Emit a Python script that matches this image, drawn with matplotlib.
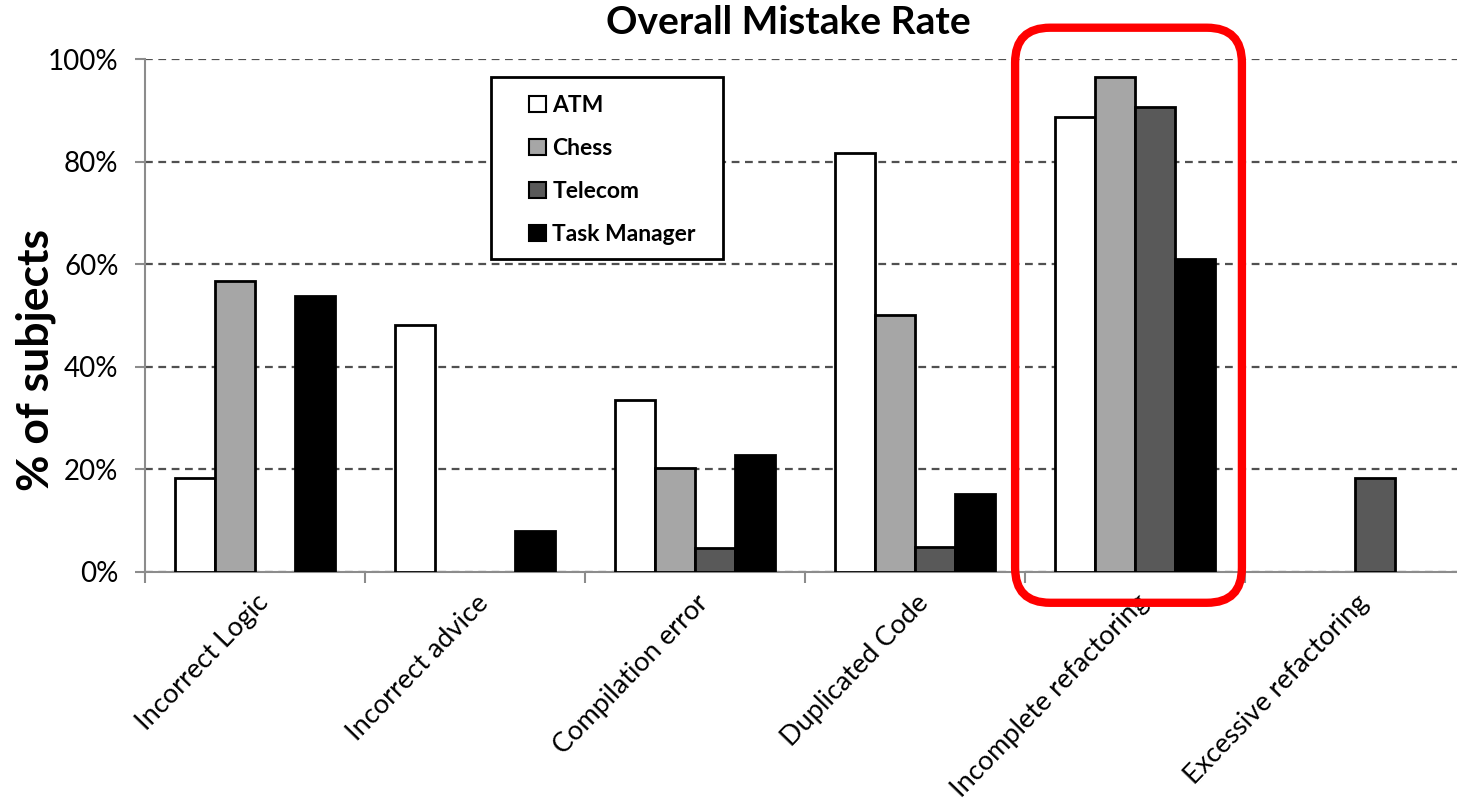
import numpy as np
import matplotlib
matplotlib.use("Agg")
from matplotlib import pyplot as plt
from matplotlib.patches import FancyBboxPatch, Rectangle, Patch
from matplotlib.ticker import FixedLocator, PercentFormatter

plt.rcParams['font.family'] = ['Lato', 'DejaVu Sans']

categories = ['Incorrect Logic', 'Incorrect advice', 'Compilation error',
              'Duplicated Code', 'Incomplete refactoring', 'Excessive refactoring']
series = ['ATM', 'Chess', 'Telecom', 'Task Manager']
atm = [18.4, 48.1, 33.5, 81.7, 88.6, 0]
chess = [56.7, 0, 20.3, 50.1, 96.4, 0]
telecom = [0, 0, 4.7, 4.8, 90.6, 18.3]
task_manager = [53.8, 8.0, 22.9, 15.3, 61.1, 0]
colors = ['#ffffff', '#a6a6a6', '#595959', '#000000']
yticks = [0, 20, 40, 60, 80, 100]

W, H = 1457, 807
fig = plt.figure(figsize=(W / 100, H / 100), dpi=100)
ax = fig.add_axes([145 / W, 235 / H, 1320 / W, 513 / H])

x = np.arange(len(categories))
bw = 0.182
for k, (vals, col) in enumerate(zip([atm, chess, telecom, task_manager], colors)):
    vals = np.array(vals, dtype=float)
    keep = vals > 0
    ax.bar(x[keep] + (k - 1.5) * bw, vals[keep], width=bw, color=col,
           edgecolor='black', linewidth=2, zorder=3)

ax.set_xlim(-0.5, 5.5)
ax.set_ylim(0, 100)
ax.yaxis.set_major_locator(FixedLocator(yticks))
ax.yaxis.set_major_formatter(PercentFormatter(decimals=0))
ax.grid(axis='y', color='#505050', linestyle=(0, (3.5, 2.5)), linewidth=1.6, zorder=1)

for s in ['top', 'right']:
    ax.spines[s].set_visible(False)
for s in ['left', 'bottom']:
    ax.spines[s].set_color('#8c8c8c')
    ax.spines[s].set_linewidth(1.5)

ax.tick_params(axis='y', length=7, width=1.5, color='#8c8c8c', pad=12, labelsize=20)
ax.set_xticks(x)
ax.set_xticklabels(categories, rotation=46, ha='right', rotation_mode='anchor', fontsize=19.5)
ax.tick_params(axis='x', which='major', length=0, pad=13)
ax.set_xticks(np.arange(len(categories)) - 0.5, minor=True)
ax.tick_params(axis='x', which='minor', length=8, width=1.5, color='#8c8c8c')

fig.text(788 / W, 1 - 22 / H, 'Overall Mistake Rate', ha='center', va='center',
         fontsize=28, fontweight='bold')
fig.text(36 / W, 1 - 360 / H, '% of subjects', ha='center', va='center',
         rotation=90, fontsize=32, fontweight='bold')

# legend box drawn separately so the padding can be set freely
fig.patches.append(Rectangle((491 / W, 1 - 259 / H), 232 / W, 182 / H,
                             transform=fig.transFigure, facecolor='white',
                             edgecolor='black', linewidth=2, zorder=5))
handles = [Patch(facecolor=c, edgecolor='black', linewidth=1.5) for c in colors]
leg = fig.legend(handles, series, loc='upper left',
                 bbox_to_anchor=(518 / W, 1 - 84 / H), frameon=False,
                 handlelength=0.7, handleheight=0.7, handletextpad=0.3,
                 labelspacing=0.95, borderpad=0,
                 prop={'size': 16.5, 'weight': 'bold'})
leg.set_zorder(6)

# red highlight round the incomplete refactoring group
px_x = 1320 / 6
px_y = 513 / 100
r = 35
box = FancyBboxPatch((3.455, -6.0), 4.486 - 3.455, 106.1 + 6.0,
                     boxstyle='round,pad=0,rounding_size=%f' % (r / px_x),
                     mutation_aspect=px_x / px_y, transform=ax.transData,
                     facecolor='none', edgecolor='#ff0000', linewidth=6,
                     clip_on=False, zorder=7)
ax.add_patch(box)

fig.savefig('out.png', dpi=100)
